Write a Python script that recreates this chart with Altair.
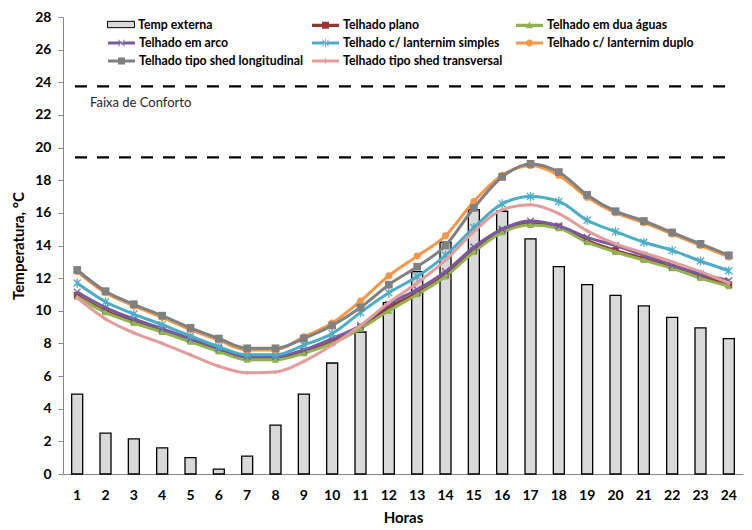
import altair as alt
import pandas as pd

hours = list(range(1, 25))
temp_externa = [4.9, 2.5, 2.15, 1.6, 1.0, 0.3, 1.1, 3.0, 4.9, 6.8, 8.7, 10.5,
                12.4, 14.2, 16.2, 16.1, 14.4, 12.7, 11.6, 10.95, 10.3, 9.6, 8.95, 8.3]
plano = [10.95, 10.0, 9.35, 8.8, 8.2, 7.6, 7.1, 7.1, 7.5, 8.1, 9.0, 10.2,
         11.1, 12.2, 13.7, 14.9, 15.35, 15.15, 14.3, 13.7, 13.2, 12.65, 12.1, 11.6]
aguas = [10.85, 9.9, 9.25, 8.7, 8.1, 7.5, 7.0, 7.0, 7.4, 8.0, 8.9, 10.0,
         11.0, 12.1, 13.6, 14.8, 15.25, 15.05, 14.2, 13.6, 13.1, 12.6, 12.0, 11.5]
arco = [11.15, 10.2, 9.5, 8.9, 8.3, 7.7, 7.2, 7.2, 7.6, 8.3, 9.1, 10.4,
        11.3, 12.4, 13.9, 15.0, 15.5, 15.2, 14.5, 14.0, 13.4, 12.8, 12.25, 11.85]
simples = [11.7, 10.55, 9.8, 9.15, 8.45, 7.8, 7.3, 7.3, 7.9, 8.6, 9.9, 11.1,
           12.1, 13.4, 15.1, 16.55, 17.0, 16.7, 15.55, 14.85, 14.2, 13.7, 13.05, 12.45]
duplo = [12.4, 11.1, 10.3, 9.6, 8.85, 8.2, 7.6, 7.6, 8.4, 9.25, 10.6, 12.15,
         13.35, 14.6, 16.7, 18.3, 18.9, 18.3, 16.95, 16.0, 15.4, 14.7, 14.0, 13.3]
longitudinal = [12.5, 11.2, 10.4, 9.7, 8.95, 8.3, 7.7, 7.7, 8.3, 9.1, 10.2, 11.6,
                12.7, 14.0, 16.3, 18.2, 19.0, 18.5, 17.1, 16.1, 15.5, 14.8, 14.1, 13.4]
transversal = [10.8, 9.5, 8.65, 8.0, 7.3, 6.6, 6.2, 6.25, 6.9, 7.9, 9.1, 10.5,
               11.7, 13.1, 14.85, 16.2, 16.5, 15.95, 14.9, 14.1, 13.55, 13.0, 12.4, 11.7]

series_names = ["Telhado plano", "Telhado em dua águas", "Telhado em arco",
                "Telhado c/ lanternim simples", "Telhado c/ lanternim duplo",
                "Telhado tipo shed longitudinal", "Telhado tipo shed transversal"]
series_values = [plano, aguas, arco, simples, duplo, longitudinal, transversal]
series_colors = ["#953735", "#8FB34F", "#7A5A9E", "#4BACC6", "#F79646", "#808080", "#E39C9C"]
comfort_band = [23.75, 19.4]
comfort_label = "Faixa de Conforto"

FONT = "Lato"
LEGEND_FS = 12.3
LEG_X = 50.5
LEG_OFF = 9.5

bars_df = pd.DataFrame({"hora": hours, "temp": temp_externa, "series": "Temp externa"})
rows = []
for name, vals in zip(series_names, series_values):
    for h, v in zip(hours, vals):
        rows.append({"hora": h, "temp": v, "series": name})
lines_df = pd.DataFrame(rows)

x_axis = alt.Axis(labelAngle=0, ticks=False, tickSize=0, labelPadding=14,
                  titlePadding=8, domainColor="#868686")
x_enc = alt.X("hora:O", title="Horas",
              scale=alt.Scale(paddingInner=0, paddingOuter=0), axis=x_axis)
y_scale = alt.Scale(domain=[0, 28], nice=False)
y_axis = alt.Axis(values=list(range(0, 29, 2)), grid=False, tickSize=5,
                  tickColor="#868686", domainColor="#868686",
                  labelPadding=7, titlePadding=8)
y_enc = alt.Y("temp:Q", title="Temperatura, °C", scale=y_scale, axis=y_axis)

legend_domain = [" "] + series_names
legend_colors = ["#ffffff"] + series_colors

L = "M-1.93,-0.22H1.93V0.22H-1.93Z"
XM = "M-0.5,-0.42L-0.42,-0.5L0.5,0.42L0.42,0.5Z M0.5,-0.42L0.42,-0.5L-0.5,0.42L-0.42,0.5Z"
legend_paths = [
    "M0,0Z",
    L + "M-0.5,-0.5H0.5V0.5H-0.5Z",
    L + "M0,-0.55L0.52,0.42H-0.52Z",
    L + XM,
    L + XM + "M-0.06,-0.6H0.06V0.6H-0.06Z",
    L + "M-0.5,0A0.5,0.5,0,1,1,0.5,0A0.5,0.5,0,1,1,-0.5,0Z",
    L + "M-0.5,-0.5H0.5V0.5H-0.5Z",
    L + "M-0.08,-0.38H0.08V0.38H-0.08Z",
]

bars = alt.Chart(bars_df).mark_bar(size=11, stroke="black", strokeWidth=1.3).encode(
    x=x_enc, y=y_enc,
    fill=alt.Fill("series:N", scale=alt.Scale(domain=["Temp externa"], range=["#D9D9D9"]),
                  legend=alt.Legend(title=None, orient="none", legendX=LEG_X, legendY=0,
                                    symbolType="M-1.93,-0.45H1.93V0.45H-1.93Z",
                                    symbolSize=196, symbolStrokeColor="black",
                                    symbolStrokeWidth=1, labelOffset=LEG_OFF)),
)

rules_df = pd.DataFrame({"temp": comfort_band})
rules = alt.Chart(rules_df).mark_rule(color="black", strokeWidth=2.2, strokeDash=[12, 10]).encode(
    y=y_enc, x=alt.value(12), x2=alt.value(672))

text_df = pd.DataFrame({"temp": [22.75], "label": [comfort_label]})
label = alt.Chart(text_df).mark_text(align="left", baseline="middle", font=FONT,
                                     fontSize=13, color="#262626").encode(
    y=y_enc, x=alt.value(27), text="label:N")

marker_specs = [
    dict(shape="square", filled=True, size=45),
    dict(shape="triangle-up", filled=True, size=45),
    dict(shape="M-1,-1L1,1M-1,1L1,-1", filled=False, size=45, strokeWidth=1.3),
    dict(shape="M-1,-1L1,1M-1,1L1,-1M0,-1.3L0,1.3", filled=False, size=50, strokeWidth=1.3),
    dict(shape="circle", filled=True, size=50),
    dict(shape="square", filled=True, size=60),
    dict(shape="diamond", filled=True, size=20),
]

layers = [bars, rules, label]
for name, spec, col in zip(series_names, marker_specs, series_colors):
    base = alt.Chart(lines_df).transform_filter(alt.datum.series == name)
    line = base.mark_line(strokeWidth=3, interpolate="monotone", color=col).encode(
        x=x_enc, y=y_enc)
    pts = base.mark_point(opacity=1, color=col, **spec).encode(x=x_enc, y=y_enc)
    layers += [line, pts]

leg = alt.Legend(title=None, orient="none", legendX=LEG_X, legendY=0, direction="horizontal",
                 columns=3, symbolSize=196, labelOffset=LEG_OFF, labelLimit=400,
                 gridAlign="all", columnPadding=8, rowPadding=3)
legend_layer = alt.Chart(lines_df).transform_filter("false").mark_point(
    filled=True, opacity=1).encode(
    x=x_enc, y=y_enc,
    color=alt.Color("series:N", scale=alt.Scale(domain=legend_domain, range=legend_colors),
                    legend=leg),
    shape=alt.Shape("series:N", scale=alt.Scale(domain=legend_domain, range=legend_paths),
                    legend=leg),
)
layers.append(legend_layer)

chart = alt.layer(*layers).properties(
    width=680, height=457,
    padding={"left": 63, "top": 17, "right": 9, "bottom": 56},
    autosize=alt.AutoSizeParams(type="none"),
    background="white",
).resolve_scale(fill="independent").configure_view(stroke=None).configure_axis(
    labelFont=FONT, labelFontSize=14, labelFontWeight="bold", labelColor="black",
    titleFont=FONT, titleFontSize=15, titleFontWeight="bold", titleColor="black",
).configure_legend(
    labelFont=FONT, labelFontSize=LEGEND_FS, labelFontWeight="bold", labelColor="black",
    padding=0, offset=0,
)

chart.save("out.html", embed_options={"renderer": "svg", "actions": False})
